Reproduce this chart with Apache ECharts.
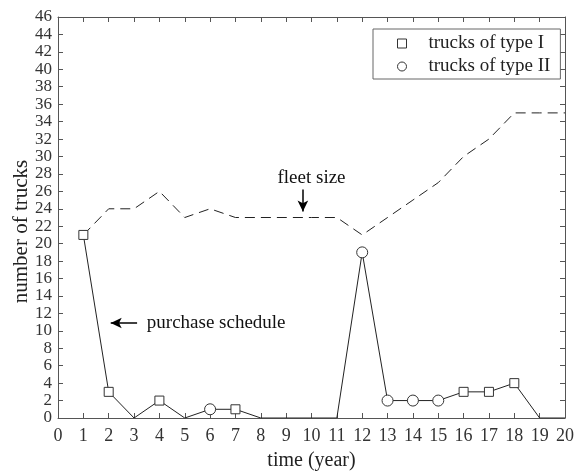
<!DOCTYPE html>
<html>
<head>
<meta charset="utf-8">
<script src="https://cdn.jsdelivr.net/npm/echarts@6/dist/echarts.min.js"></script>
<style>
html,body{margin:0;padding:0;background:#fff;}
#chart{width:576px;height:472px;}
</style>
</head>
<body>
<div id="chart"></div>
<script>
const years = [1,2,3,4,5,6,7,8,9,10,11,12,13,14,15,16,17,18,19,20];
const fleetSize = [21,24,24,26,23,24,23,23,23,23,23,21,23,25,27,30,32,35,35,35];
const purchases = [21,3,0,2,0,1,1,0,0,0,0,19,2,2,2,3,3,4,0,0];
const truckType = ['I','I','','I','','II','I','','','','','II','II','II','II','I','I','I','',''];
const xTicks = {min:0, max:20, interval:1};
const yTicks = {min:0, max:46, interval:2};

const FONT = "'Liberation Serif','Times New Roman',serif";
const INK = '#222';
const AX = '#555';

const fleetData = years.map((y,i)=>[y, fleetSize[i]]);
const purchaseData = years.map((y,i)=>[y, purchases[i]]);
const typeIData = years.map((y,i)=>[y, purchases[i], truckType[i]]).filter(d=>d[2]==='I').map(d=>[d[0],d[1]]);
const typeIIData = years.map((y,i)=>[y, purchases[i], truckType[i]]).filter(d=>d[2]==='II').map(d=>[d[0],d[1]]);

function xAx(pos, labels){
  return {
    type:'value', position:pos, min:xTicks.min, max:xTicks.max, interval:xTicks.interval,
    axisLine:{show:true, onZero:false, lineStyle:{color:AX, width:1}},
    axisTick:{show:true, inside:true, length:5, lineStyle:{color:AX}},
    axisLabel:{show:labels, fontFamily:FONT, fontSize:18, color:'#333', margin:9,
               showMinLabel:true, showMaxLabel:true, hideOverlap:false},
    splitLine:{show:false},
    name: labels ? 'time (year)' : '',
    nameLocation:'middle', nameGap:33,
    nameTextStyle:{fontFamily:FONT, fontSize:20, color:'#222'}
  };
}
function yAx(pos, labels){
  return {
    type:'value', position:pos, min:yTicks.min, max:yTicks.max, interval:yTicks.interval,
    axisLine:{show:true, onZero:false, lineStyle:{color:AX, width:1}},
    axisTick:{show:true, inside:true, length:5, lineStyle:{color:AX}},
    axisLabel:{show:labels, fontFamily:FONT, fontSize:17, lineHeight:15, color:'#333', margin:6,
               showMinLabel:true, showMaxLabel:true, hideOverlap:false},
    splitLine:{show:false},
    name: labels ? 'number of trucks' : '',
    nameLocation:'middle', nameGap:26, nameMoveOverlap:false,
    nameTextStyle:{fontFamily:FONT, fontSize:21, color:'#222', padding:[0,28,0,0]}
  };
}

const chart = echarts.init(document.getElementById('chart'), null, {renderer:'canvas'});
chart.setOption({
  animation:false,
  backgroundColor:'#fff',
  grid:{left:58, right:11, top:17, bottom:54, containLabel:false, outerBoundsMode:'none'},
  xAxis:[xAx('bottom', true), xAx('top', false)],
  yAxis:[yAx('left', true), yAx('right', false)],
  legend:{
    orient:'vertical', left:373, top:29,
    data:['trucks of type I','trucks of type II'],
    itemWidth:9, itemHeight:9, itemGap:4,
    padding:[5,10,3,24],
    borderColor:'#666', borderWidth:1,
    itemStyle:{borderWidth:1},
    textStyle:{fontFamily:FONT, fontSize:19, color:'#222', lineHeight:18, padding:[0,0,0,17]},
    selectedMode:false
  },
  series:[
    {
      name:'fleet size', type:'line', data:fleetData, symbol:'none',
      lineStyle:{color:INK, width:1, type:[10,6]},
      silent:true, z:2,
      markLine:{
        silent:true, symbol:['none','arrow'], symbolSize:[8,11],
        label:{show:false},
        lineStyle:{color:'#000', width:1.5, type:'solid'},
        data:[[{coord:[9.66,26.2]},{coord:[9.66,23.7]}]]
      },
      markPoint:{
        silent:true, symbol:'circle', symbolSize:1,
        itemStyle:{color:'rgba(0,0,0,0)'},
        label:{show:true, position:'inside', formatter:'fleet size', fontFamily:FONT, fontSize:19, color:'#111'},
        data:[{coord:[10.0,27.5]}]
      }
    },
    {
      name:'purchase schedule', type:'line', data:purchaseData, symbol:'none',
      lineStyle:{color:INK, width:1}, silent:true, z:3,
      markLine:{
        silent:true, symbol:['none','arrow'], symbolSize:[8,11],
        label:{show:false},
        lineStyle:{color:'#000', width:1.5, type:'solid'},
        data:[[{coord:[3.12,10.9]},{coord:[2.08,10.9]}]]
      },
      markPoint:{
        silent:true, symbol:'circle', symbolSize:1,
        itemStyle:{color:'rgba(0,0,0,0)'},
        label:{show:true, position:'inside', formatter:'purchase schedule', fontFamily:FONT, fontSize:19, color:'#111'},
        data:[{coord:[6.24,10.9]}]
      }
    },
    {
      name:'trucks of type I', type:'scatter', data:typeIData,
      symbol:'rect', symbolSize:9, z:5,
      itemStyle:{color:'#fff', borderColor:'#333', borderWidth:1, opacity:1}
    },
    {
      name:'trucks of type II', type:'scatter', data:typeIIData,
      symbol:'circle', symbolSize:11, z:5,
      itemStyle:{color:'#fff', borderColor:'#333', borderWidth:1, opacity:1}
    }
  ]
});
</script>
</body>
</html>
